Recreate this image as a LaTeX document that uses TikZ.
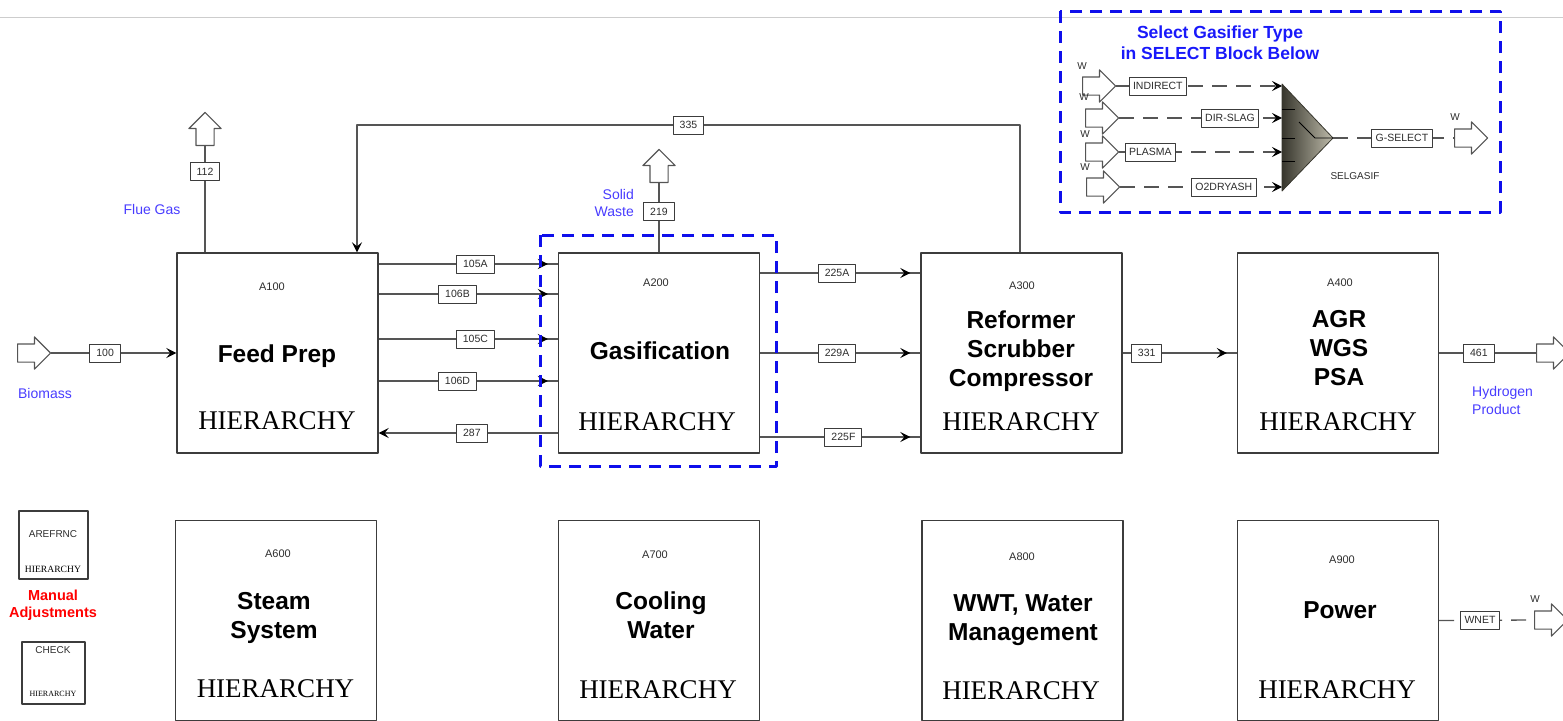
\documentclass[tikz,border=0pt]{standalone}
\usepackage{fontspec}
\setmainfont{Liberation Sans}
\newfontfamily\hierfont{Liberation Serif}
\usepackage{tikz}
\usetikzlibrary{arrows.meta,shapes.arrows,decorations.markings}

\definecolor{linegray}{RGB}{85,85,85}
\definecolor{boxgray}{RGB}{60,60,60}
\definecolor{txtgray}{RGB}{45,45,45}
\definecolor{lblblue}{RGB}{72,60,255}
\definecolor{ttlblue}{RGB}{25,25,250}
\definecolor{frameblue}{RGB}{15,15,235}
\definecolor{rulegray}{RGB}{205,205,205}
\definecolor{sgdark}{RGB}{55,54,45}
\definecolor{sglight}{RGB}{190,187,170}

\begin{document}
\begin{tikzpicture}[line join=round,x=1pt,y=-1pt,
  >={Stealth[length=10pt,width=10pt,inset=4pt,color=black]},
  block/.style={draw=boxgray,line width=1.4pt,minimum width=201pt,minimum height=200pt,inner sep=0pt},
  minibox/.style={draw=boxgray,line width=1.4pt,inner sep=0pt},
  code/.style={font=\fontsize{11}{13}\selectfont,text=txtgray,inner sep=0pt},
  title/.style={font=\bfseries\fontsize{24.5}{29}\selectfont,align=center,inner sep=0pt},
  hier/.style={font=\hierfont\fontsize{27}{30}\selectfont,inner sep=0pt},
  tag/.style={solid,draw=boxgray,fill=white,line width=1pt,font=\fontsize{10.5}{12}\selectfont,text=txtgray,inner xsep=6.5pt,inner ysep=0pt,minimum height=18pt},
  wtag/.style={tag,inner xsep=4pt},
  bluelbl/.style={font=\fontsize{14}{17.5}\selectfont,text=lblblue,inner sep=0pt},
  wlbl/.style={font=\fontsize{10}{12}\selectfont,text=txtgray,inner sep=0pt},
  feed/.style={single arrow,solid,draw=linegray,line width=1.2pt,minimum height=33pt,minimum width=31pt,single arrow head extend=7pt,inner xsep=0pt,inner ysep=8.5pt,anchor=tail},
  upfeed/.style={feed,shape border rotate=90,inner xsep=8.5pt,inner ysep=0pt},
  stream/.style={draw=linegray,line width=1.3pt},
  work/.style={stream,dash pattern=on 15pt off 9pt},
  gapin/.style={stream,postaction={decorate},decoration={markings,mark=at position -10pt with {\arrow{>}}}},
  frame/.style={draw=frameblue,line width=3pt,dash pattern=on 12pt off 8pt}]
\useasboundingbox (0,0) rectangle (1563,720);
\clip (0,0) rectangle (1563,720);
\draw[rulegray,line width=1pt] (0,17) -- (1563,17);

% process blocks, top row
\node[block] (a100) at (277.5,353) {};
\node[code] (a100n) at (272,287) {A100};
\node[title] (a100t) at (277,356.5) {Feed Prep};
\node[hier] (a100h) at (277,421) {HIERARCHY};

\node[block] (a200) at (659,353) {};
\node[code] (a200n) at (656,283) {A200};
\node[title] (a200t) at (660,351) {Gasification};
\node[hier] (a200h) at (657,422) {HIERARCHY};

\node[block] (a300) at (1021.5,353) {};
\node[code] (a300n) at (1022,286) {A300};
\node[title] (a300t) at (1021,351.5) {Reformer\\Scrubber\\Compressor};
\node[hier] (a300h) at (1021,422) {HIERARCHY};

\node[block] (a400) at (1338,353) {};
\node[code] (a400n) at (1340,283) {A400};
\node[title] (a400t) at (1339,348) {AGR\\WGS\\PSA};
\node[hier] (a400h) at (1338,422) {HIERARCHY};

% process blocks, bottom row
\node[block] (a600) at (276,620.5) {};
\node[code] (a600n) at (278,554) {A600};
\node[title] (a600t) at (274,617.5) {Steam\\System};
\node[hier] (a600h) at (275.5,689) {HIERARCHY};

\node[block] (a700) at (659,620.5) {};
\node[code] (a700n) at (655,555) {A700};
\node[title] (a700t) at (661,615.5) {Cooling\\Water};
\node[hier] (a700h) at (658,690) {HIERARCHY};

\node[block] (a800) at (1022.5,620.5) {};
\node[code] (a800n) at (1022,557) {A800};
\node[title] (a800t) at (1023,620.5) {WWT, Water\\Management};
\node[hier] (a800h) at (1021,691) {HIERARCHY};

\node[block] (a900) at (1338,620.5) {};
\node[code] (a900n) at (1342,560) {A900};
\node[title] (a900t) at (1340,610) {Power};
\node[hier] (a900h) at (1337,690) {HIERARCHY};

% reference and check blocks
\node[minibox,minimum width=69pt,minimum height=68pt] (aref) at (53.5,545) {};
\node[wlbl] (arefn) at (53,534) {AREFRNC};
\node[font=\hierfont\fontsize{9.6}{11}\selectfont,inner sep=0pt] (arefh) at (53,569) {HIERARCHY};
\node[font=\bfseries\fontsize{14.5}{17}\selectfont,text=red,align=center,inner sep=0pt] (manual) at (53,605) {Manual\\Adjustments};
\node[minibox,minimum width=63pt,minimum height=62pt] (chk) at (53.5,673) {};
\node[wlbl] (chkn) at (53,650) {CHECK};
\node[font=\hierfont\fontsize{8}{10}\selectfont,inner sep=0pt] (chkh) at (53,694) {HIERARCHY};

% feeds and products
\node[feed] (bio) at (17,353) {};
\node[bluelbl] (biol) at (45,393) {Biomass};
\draw[stream,->] (bio.tip) -- node[tag,pos=.43] (s100) {100} (a100.west);

\node[upfeed] (flue) at (205,146) {};
\node[bluelbl] (fluel) at (152,209) {Flue Gas};
\draw[stream] (a100.north -| flue.tail) -- node[tag,pos=.76] (s112) {112} (flue.tail);

\coordinate (r335a) at (1020,125);
\coordinate (r335b) at (357,125);
\draw[stream,->] (a300.north -| r335a) -- (r335a) -- node[tag,pos=.5] (s335) {335} (r335b) -- (a100.north -| r335b);

\draw[gapin] (a100.east |- 0,264) -- node[tag,pos=.54] (s105a) {105A} (a200.west |- 0,264);
\draw[gapin] (a100.east |- 0,294) -- node[tag,pos=.44] (s106b) {106B} (a200.west |- 0,294);
\draw[gapin] (a100.east |- 0,339) -- node[tag,pos=.54] (s105c) {105C} (a200.west |- 0,339);
\draw[gapin] (a100.east |- 0,381) -- node[tag,pos=.44] (s106d) {106D} (a200.west |- 0,381);
\draw[stream,->] (a200.west |- 0,433) -- node[tag,pos=.48] (s287) {287} (a100.east |- 0,433);

\node[upfeed] (sw) at (659,183) {};
\node[bluelbl,align=right,anchor=east] (swl) at (634,203) {Solid\\Waste};
\draw[stream] (a200.north -| sw.tail) -- node[tag,pos=.59] (s219) {219} (sw.tail);

\draw[gapin] (a200.east |- 0,273) -- node[tag,pos=.48] (s225a) {225A} (a300.west |- 0,273);
\draw[gapin] (a200.east) -- node[tag,pos=.48] (s229a) {229A} (a300.west);
\draw[gapin] (a200.east |- 0,437) -- node[tag,pos=.52] (s225f) {225F} (a300.west |- 0,437);

\draw[gapin] (a300.east) -- node[tag,pos=.21] (s331) {331} (a400.west);

\node[feed] (h2) at (1536,353) {};
\node[bluelbl,align=left,anchor=west] (h2l) at (1472,400.5) {Hydrogen\\Product};
\draw[stream] (a400.east) -- node[tag,pos=.41] (s461) {461} (h2.tail);

\node[feed] (wnet) at (1534,620) {};
\node[wlbl] (wnetw) at (1535,599) {W};
\draw[work] (a900.east) -- node[wtag,pos=.43] (swnet) {WNET} (wnet.tail);

% gasifier selector
\node[font=\bfseries\fontsize{17.5}{21}\selectfont,text=ttlblue,align=center,inner sep=0pt] (selt) at (1220,42.5) {Select Gasifier Type\\in SELECT Block Below};
\node[feed] (w1) at (1082,86) {};
\node[feed] (w2) at (1085,118) {};
\node[feed] (w3) at (1085,152) {};
\node[feed] (w4) at (1086,187) {};
\node[wlbl] (w1l) at (1082,66) {W};
\node[wlbl] (w2l) at (1084,97) {W};
\node[wlbl] (w3l) at (1085,134) {W};
\node[wlbl] (w4l) at (1085,167) {W};

\coordinate (sgtop) at (1282,84);
\coordinate (sgbot) at (1282,191);
\coordinate (sgtip) at (1333,138);
\shadedraw[left color=sgdark,right color=sglight,draw=sgdark,line width=0.8pt] (sgtop) -- (sgtip) -- (sgbot) -- cycle;
\draw[black,line width=0.9pt] (1282,109) -- (1295,109) (1282,138) -- (1295,138) (1282,161) -- (1295,161);
\draw[black,line width=0.9pt] (1299,122) -- (1315,138) -- (sgtip);
\node[wlbl] (sgl) at (1355,176) {SELGASIF};

\draw[work,->] (w1.tip) -- node[wtag,pos=.25] (sind) {INDIRECT} (w1.tip -| sgtop);
\draw[work,->] (w2.tip) -- node[wtag,pos=.68] (sdir) {DIR-SLAG} (w2.tip -| sgtop);
\draw[work,->] (w3.tip) -- node[wtag,pos=.19] (spla) {PLASMA} (w3.tip -| sgtop);
\draw[work,->] (w4.tip) -- node[wtag,pos=.64] (so2d) {O2DRYASH} (w4.tip -| sgtop);

\node[feed] (wout) at (1454,138) {};
\node[wlbl] (woutw) at (1455,117) {W};
\draw[work] (sgtip) -- node[wtag,pos=.57] (gsel) {G-SELECT} (wout.tail);

% dashed frames
\draw[frame] (540,235) rectangle (776,466);
\draw[frame] (1060,11) rectangle (1500,212);
\end{tikzpicture}
\end{document}
